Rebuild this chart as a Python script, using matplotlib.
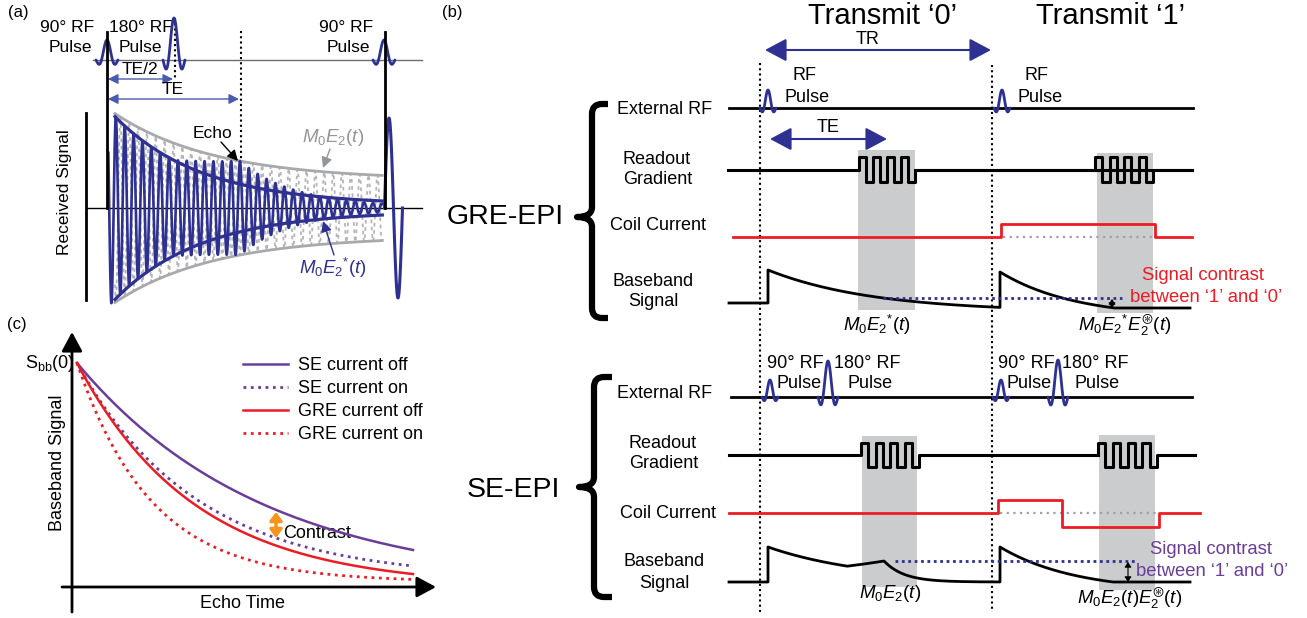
import numpy as np
import matplotlib
matplotlib.use('Agg')
import matplotlib.pyplot as plt
from matplotlib.path import Path
from matplotlib.patches import PathPatch, Rectangle

plt.rcParams['font.family'] = ['Liberation Sans', 'DejaVu Sans']
plt.rcParams['mathtext.fontset'] = 'custom'
plt.rcParams['mathtext.rm'] = 'Liberation Sans'
plt.rcParams['mathtext.it'] = 'Liberation Sans:italic'
plt.rcParams['mathtext.bf'] = 'Liberation Sans:bold'
plt.rcParams['mathtext.fallback'] = 'stixsans'

W, H = 1307, 618
BLUE = '#2E3192'
LBLUE = '#4A5AAE'
RED = '#ED1C24'
PURPLE = '#6A3D9A'
GRAY = '#A7A9AC'
BOX = '#CBCCCE'
ORANGE = '#F7941D'
FS = 13

# ---------------- data ----------------
# panel (c): baseband signal vs echo time, S = floor + (1-floor)*exp(-rate*t)
c_labels = ['SE current off', 'SE current on', 'GRE current off', 'GRE current on']
c_colors = [PURPLE, PURPLE, RED, RED]
c_styles = ['-', ':', '-', ':']
c_rates = [1.8, 2.8, 2.85, 4.5]
c_floors = [0.0, 0.035, 0.0, 0.023]

# panel (a): received signal (time in units of TE, amplitude relative to M0)
a_T2_floor, a_T2_tau = 0.28, 0.75        # M0E2(t) envelope
a_T2s_floor, a_T2s_tau = 0.03, 0.65      # M0E2*(t) envelope
a_post_echo_tau = 0.53
a_cycles_per_TE = 15
a_t_end = 2.07

# panel (b): sequence diagram levels
readout_lobes = [1, -1, 1, -1, 1, -1, 1, -1]
coil_gre = [0, 1, 0]
coil_se = [0, 1, -1, 0]

# ---------------- figure ----------------
fig = plt.figure(figsize=(W / 100, H / 100), dpi=100)
ax = fig.add_axes([0, 0, 1, 1])
ax.set_xlim(0, W)
ax.set_ylim(H, 0)
ax.axis('off')


def txt(x, y, s, size=FS, color='black', ha='center', va='center', **kw):
    ax.text(x, y, s, fontsize=size, color=color, ha=ha, va=va, **kw)


def arrow(x0, y0, x1, y1, style='<|-|>', color=BLUE, lw=1.5, ms=20, hl=0.6, hw=0.3, axis=None):
    (axis or ax).annotate('', xy=(x1, y1), xytext=(x0, y0),
                          arrowprops=dict(arrowstyle=f'{style},head_length={hl},head_width={hw}',
                                          color=color, lw=lw, mutation_scale=ms,
                                          shrinkA=0, shrinkB=0))


def rf_pulse(x0, y0, h, w, color=BLUE, lw=2):
    x = np.linspace(x0 - 2 * w, x0 + 2 * w, 80)
    y = y0 - h * np.sinc((x - x0) / w)
    ax.plot(x, y, color=color, lw=lw, solid_capstyle='round', zorder=4)


def vdots(x, y0, y1, lw=1.5):
    ax.plot([x, x], [y0, y1], color='black', lw=lw, ls=(0, (1, 1.5)), zorder=3)


def brace(x_cap, x_stem, x_tip, y_top, y_bot, y_mid, lw=4.5):
    r = 10
    M, L, C = Path.MOVETO, Path.LINETO, Path.CURVE3
    verts = [(x_cap, y_top), (x_stem + r, y_top), (x_stem, y_top), (x_stem, y_top + r),
             (x_stem, y_mid - r), (x_stem, y_mid), (x_tip, y_mid),
             (x_stem, y_mid), (x_stem, y_mid + r),
             (x_stem, y_bot - r), (x_stem, y_bot), (x_stem + r, y_bot), (x_cap, y_bot)]
    codes = [M, L, C, C, L, C, C, C, C, L, C, C, L]
    ax.add_patch(PathPatch(Path(verts, codes), fill=False, lw=lw, ec='black',
                           capstyle='butt', joinstyle='round'))


def readout(x_start, x_end, x0, y0, width, up, down, lw=2.2):
    n = len(readout_lobes)
    dx = width / n
    xs, ys = [x_start, x0], [y0, y0]
    for i, p in enumerate(readout_lobes):
        lvl = y0 - up if p > 0 else y0 + down
        xs += [x0 + i * dx, x0 + (i + 1) * dx]
        ys += [lvl, lvl]
    xs += [x0 + width, x_end]
    ys += [y0, y0]
    ax.plot(xs, ys, color='black', lw=lw, zorder=3, solid_joinstyle='round')


def coil(levels, edges, y0, amp, x_start, x_end):
    xs, ys = [x_start], [y0 - amp * levels[0]]
    for e, l_prev, l_new in zip(edges, levels[:-1], levels[1:]):
        xs += [e, e]
        ys += [y0 - amp * l_prev, y0 - amp * l_new]
    xs.append(x_end)
    ys.append(y0 - amp * levels[-1])
    ax.plot(xs, ys, color=RED, lw=2, zorder=3)
    ax.plot([edges[0] + 2, edges[-1] - 2], [y0, y0], color='#A0A0A0', lw=1.6,
            ls=(0, (1, 2)), zorder=2)


# ================= panel (a) =================
txt(18, 12, '(a)', size=12)
xa = lambda t: 107 + 133 * np.asarray(t)
YA0, AMP = 208, 100

ax.plot([93, 422], [60, 60], color='#6D6E71', lw=1, zorder=2)
rf_pulse(107, 60, 20, 5.5)
rf_pulse(174, 60, 42, 5.5)
rf_pulse(384, 60, 20, 5.5)
ax.plot([107, 107], [32, YA0], color='black', lw=2, zorder=5)
ax.plot([384.5, 384.5], [32, YA0], color='black', lw=2, zorder=5)
vdots(174.5, 18, 80)
vdots(241, 31, 163)
txt(67, 27, '90° RF', size=12.5)
txt(70, 48, 'Pulse', size=12.5)
txt(141, 27, '180° RF', size=12.5)
txt(140, 48, 'Pulse', size=12.5)
txt(346, 27, '90° RF', size=12.5)
txt(348, 48, 'Pulse', size=12.5)
arrow(108, 79, 173, 79, color=LBLUE, lw=1, ms=10, hl=0.6, hw=0.3)
txt(140, 70, 'TE/2', size=12.5)
arrow(108, 99, 239, 99, color=LBLUE, lw=1, ms=10, hl=0.6, hw=0.3)
txt(173, 90, 'TE', size=12.5)

ax.plot([86, 422], [YA0, YA0], color='black', lw=1, zorder=2)
ax.plot([86, 86], [113, 300], color='black', lw=2)
txt(64, 192, 'Received Signal', size=12.5, rotation=90)

t = np.linspace(0.0, a_t_end, 4000)
e2 = a_T2_floor + (1 - a_T2_floor) * np.exp(-t / a_T2_tau)
e2s = a_T2s_floor + (1 - a_T2s_floor) * np.exp(-t / a_T2s_tau)
half = 0.5
ratio_half = (a_T2s_floor + (1 - a_T2s_floor) * np.exp(-half / a_T2s_tau)) / \
             (a_T2_floor + (1 - a_T2_floor) * np.exp(-half / a_T2_tau))
tau_r = -half / np.log(ratio_half)
amp = np.where(t < half, e2s,
               np.where(t <= 1, e2 * np.exp(-(1 - t) / tau_r), e2 * np.exp(-(t - 1) / a_post_echo_tau)))
phase = 2 * np.pi * a_cycles_per_TE * (t - 1)
env_mask = t >= 0.06
ax.plot(xa(t[env_mask]), YA0 - AMP * e2[env_mask] * np.cos(phase[env_mask] + np.pi),
        color='#B4B5B8', lw=1.3, ls=(0, (2.0, 2.0)), zorder=2)
ax.plot(xa(t[env_mask]), YA0 - AMP * e2[env_mask], color=GRAY, lw=2, zorder=3)
ax.plot(xa(t[env_mask]), YA0 + AMP * e2[env_mask], color=GRAY, lw=2, zorder=3)
osc_mask = t >= 0.01
ax.plot(xa(t[osc_mask]), YA0 - AMP * amp[osc_mask] * np.cos(phase[osc_mask]), color=BLUE, lw=1.9, zorder=4)
ax.plot(xa(t[env_mask]), YA0 - AMP * e2s[env_mask], color=BLUE, lw=2.3, zorder=5)
ax.plot(xa(t[env_mask]), YA0 + AMP * e2s[env_mask], color=BLUE, lw=2.3, zorder=5)
# FID after the next 90 deg pulse
tt = np.linspace(0, 1, 100)
ax.plot(384.5 + 18 * tt, YA0 - 90 * np.sin(2 * np.pi * tt), color=BLUE, lw=2.2, zorder=4)

txt(213, 133, 'Echo', size=12.5)
arrow(221, 142, 238, 161, style='-|>', color='black', lw=1, ms=8, hl=0.8, hw=0.4)
txt(333, 137, r'$\mathit{M_0E_2(t)}$', color='#939598', size=13.5)
arrow(330, 149, 323, 168, style='-|>', color='#939598', lw=1, ms=8, hl=0.8, hw=0.4)
txt(333, 268, r'$\mathit{M_0E_2{}^{*}(t)}$', color=BLUE, size=13.5)
arrow(334, 255, 323, 221, style='-|>', color=BLUE, lw=1, ms=8, hl=0.8, hw=0.4)

# ================= panel (b) =================
txt(452, 12, '(b)', size=12)
txt(883, 16, 'Transmit ‘0’', size=21)
txt(1111, 16, 'Transmit ‘1’', size=21)
arrow(765, 50, 991, 50, ms=22, hl=0.6, hw=0.32)
txt(868, 40, 'TR')
vdots(760, 63, 612)
vdots(992, 65, 612)

# --- GRE-EPI ---
txt(505, 217, 'GRE-EPI', size=20.5)
brace(608, 592, 577, 104, 318, 217)
txt(665, 109, 'External RF')
txt(657, 159, 'Readout')
txt(658, 180, 'Gradient')
txt(658, 226, 'Coil Current')
txt(653, 281, 'Baseband')
txt(653, 302, 'Signal')

ax.add_patch(Rectangle((858, 150), 57, 160, color=BOX, lw=0, zorder=1))
ax.add_patch(Rectangle((1097, 153), 56, 160, color=BOX, lw=0, zorder=1))

ax.plot([729, 1193], [108, 108], color='black', lw=2, zorder=3)
rf_pulse(768, 108, 18, 4)
rf_pulse(1002, 108, 18, 4)
txt(805, 76, 'RF')
txt(807, 97, 'Pulse')
txt(1037, 76, 'RF')
txt(1040, 97, 'Pulse')
arrow(770, 139, 887, 139, ms=22, hl=0.6, hw=0.32)
txt(828, 127, 'TE')

readout(728, 1192, 859, 170, 56, 13, 12)
readout(1095, 1192, 1095, 170, 58, 13, 12)
ax.plot([915, 1095], [170, 170], color='black', lw=2.2, zorder=3)
coil(coil_gre, [1001, 1155], 237, 13, 733, 1192)

x0 = np.linspace(768, 1000, 300)
y0 = 312 - 42 * np.exp(-(x0 - 768) / 105)
x1 = np.linspace(1000, 1190, 300)
y1 = np.minimum(308, 318 - 46 * np.exp(-(x1 - 1000) / 75))
ax.plot(np.r_[729, 768, x0, x1], np.r_[303, 303, y0, y1], color='black', lw=2, zorder=3)
ax.plot([883, 1122], [298, 298], color=BLUE, lw=2, ls=(0, (1, 1.3)), zorder=3)
arrow(1112, 299, 1112, 308, color='black', lw=0.8, ms=5, hl=0.6, hw=0.4)
txt(1203, 276, 'Signal contrast', color=RED, size=13.3)
txt(1206, 297, 'between ‘1’ and ‘0’', color=RED, size=13.3)
txt(877, 325, r'$\mathit{M_0E_2{}^{*}(t)}$', size=13.5)
txt(1125, 325, r'$\mathit{M_0E_2{}^{*}E_2^{\circledast}(t)}$', size=13.5)

# --- SE-EPI ---
txt(513, 490, 'SE-EPI', size=20.5)
brace(612, 594, 579, 377, 597, 487)
txt(665, 393, 'External RF')
txt(663, 443, 'Readout')
txt(664, 464, 'Gradient')
txt(668, 513, 'Coil Current')
txt(664, 562, 'Baseband')
txt(664, 583, 'Signal')

ax.add_patch(Rectangle((862, 436), 55, 151, color=BOX, lw=0, zorder=1))
ax.add_patch(Rectangle((1099, 435), 56, 155, color=BOX, lw=0, zorder=1))

ax.plot([731, 1192], [397, 397], color='black', lw=2, zorder=3)
rf_pulse(770, 397, 17, 4)
rf_pulse(828, 397, 36, 5)
rf_pulse(1001, 397, 17, 4)
rf_pulse(1058, 397, 37, 5)
txt(795, 363, '90° RF')
txt(799, 384, 'Pulse')
txt(867, 363, '180° RF')
txt(870, 384, 'Pulse')
txt(1026, 363, '90° RF')
txt(1029, 384, 'Pulse')
txt(1095, 363, '180° RF')
txt(1097, 384, 'Pulse')

readout(729, 1098, 861, 455, 58, 12, 12)
readout(1098, 1195, 1098, 455, 59, 12, 12)
coil(coil_se, [998, 1062, 1159], 513, 13.5, 729, 1200)

t_se = np.linspace(0, 232, 600)
fid = 35 * np.exp(-t_se / 100)
echo = np.where(t_se <= 116, 21 * np.exp(-(116 - t_se) / 130), 21 * np.exp(-(t_se - 116) / 20))
amp_se = np.where(t_se <= 116, np.maximum(fid, echo), echo)
x_se0 = 768 + t_se
y_se0 = 582 - amp_se
x_se1 = np.linspace(1000, 1190, 300)
y_se1 = np.minimum(582, 592 - 45 * np.exp(-(x_se1 - 1000) / 75))
ax.plot(np.r_[729, 768, x_se0, x_se1], np.r_[582, 582, y_se0, y_se1], color='black', lw=2, zorder=3)
ax.plot([895, 1135], [561, 561], color=BLUE, lw=2, ls=(0, (1, 1.3)), zorder=3)
arrow(1128, 562, 1128, 582, color='black', lw=0.8, ms=5, hl=0.6, hw=0.4)
txt(1211, 549, 'Signal contrast', color=PURPLE, size=13.3)
txt(1212, 571, 'between ‘1’ and ‘0’', color=PURPLE, size=13.3)
txt(890, 594, r'$\mathit{M_0E_2(t)}$', size=13.5)
txt(1130, 598, r'$\mathit{M_0E_2(t)E_2^{\circledast}(t)}$', size=13.5)

# ================= panel (c) =================
txt(17, 325, '(c)', size=12)
px_per_t, px_per_v = 336.0, 224.0
left_px, right_px, top_px, bot_px = 62, 440, 328, 612
xmin = -(77 - left_px) / px_per_t
xmax = xmin + (right_px - left_px) / px_per_t
ymin = -(bot_px - 587) / px_per_v
ymax = ymin + (bot_px - top_px) / px_per_v
axc = fig.add_axes([left_px / W, 1 - bot_px / H, (right_px - left_px) / W, (bot_px - top_px) / H])
axc.set_xlim(xmin, xmax)
axc.set_ylim(ymin, ymax)
axc.axis('off')
axc.patch.set_alpha(0)

tc = np.linspace(0, 1, 300)
handles = []
for lab, col, ls, k, c in zip(c_labels, c_colors, c_styles, c_rates, c_floors):
    v = c + (1 - c) * np.exp(-k * tc)
    (h,) = axc.plot(tc, v, color=col, ls=ls, lw=1.8 if ls == '-' else 2.0, label=lab)
    handles.append(h)

x_yaxis = (72 - 77) / px_per_t
arrow(x_yaxis, ymin, x_yaxis, (587 - 332) / px_per_v, style='-|>', color='black', lw=2,
      ms=18, hl=0.65, hw=0.35, axis=axc)
arrow((62 - 77) / px_per_t, 0, (436 - 77) / px_per_t, 0, style='-|>', color='black', lw=2,
      ms=18, hl=0.65, hw=0.35, axis=axc)
arrow((276 - 77) / px_per_t, (587 - 512) / px_per_v, (276 - 77) / px_per_t, (587 - 538) / px_per_v,
      color=ORANGE, lw=2.5, ms=8, hl=0.6, hw=0.45, axis=axc)

leg = axc.legend(handles=handles, loc='upper left', bbox_to_anchor=(243 / W, 1 - 357 / H),
                 bbox_transform=fig.transFigure, frameon=False, fontsize=13,
                 handlelength=2.5, handletextpad=0.55, labelspacing=0.34,
                 borderaxespad=0, borderpad=0)

txt(50, 363, r'$\mathrm{S_{bb}(0)}$', size=13)
txt(283, 533, 'Contrast', size=13, ha='left')
txt(58, 463, 'Baseband Signal', size=13, rotation=90)
txt(242, 603, 'Echo Time', size=13)

fig.savefig('out.png', dpi=100)
